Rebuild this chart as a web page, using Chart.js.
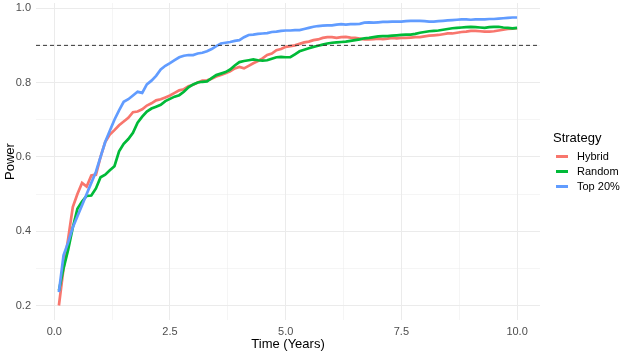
<!DOCTYPE html>
<html>
<head>
<meta charset="utf-8">
<script src="https://cdn.jsdelivr.net/npm/chart.js@4/dist/chart.umd.min.js"></script>
<style>
  html, body { margin: 0; padding: 0; background: #fff; }
  #wrap { position: relative; width: 624px; height: 356px; }
  canvas { position: absolute; left: 0; top: 0; }
  #legend { position: absolute; left: 553px; top: 130px; font-family: "Liberation Sans", Arial, sans-serif; color: #000; }
  #legend .title { font-size: 13px; margin-bottom: 4px; }
  #legend .item { font-size: 11px; height: 15px; line-height: 15px; display: flex; align-items: center; }
  #legend .key { width: 12px; height: 3px; margin: 0 9px 0 3px; }
</style>
</head>
<body>
<div id="wrap">
  <canvas id="c" width="624" height="356"></canvas>
  <div id="legend"></div>
</div>
<script>
const times = [];
for (let i = 1; i <= 100; i++) times.push(i / 10);

const seriesNames = ["Hybrid", "Random", "Top 20%"];
const seriesColors = ["#F8766D", "#00BA38", "#619CFF"];

const hybrid = [
  0.200,0.300,0.380,0.465,0.500,0.530,0.520,0.550,0.552,0.600,
  0.640,0.660,0.672,0.685,0.695,0.705,0.720,0.722,0.728,0.738,
  0.744,0.752,0.755,0.760,0.765,0.772,0.779,0.782,0.790,0.794,
  0.800,0.805,0.806,0.810,0.816,0.820,0.825,0.830,0.838,0.842,
  0.838,0.845,0.852,0.858,0.865,0.874,0.878,0.887,0.890,0.896,
  0.898,0.900,0.904,0.908,0.910,0.914,0.916,0.920,0.922,0.922,
  0.920,0.922,0.923,0.921,0.920,0.918,0.916,0.916,0.917,0.918,
  0.917,0.918,0.920,0.919,0.920,0.920,0.921,0.922,0.922,0.924,
  0.926,0.927,0.928,0.930,0.932,0.932,0.934,0.936,0.937,0.939,
  0.939,0.938,0.937,0.937,0.938,0.940,0.942,0.944,0.945,0.946
];
const random = [
  0.240,0.300,0.350,0.410,0.460,0.480,0.495,0.496,0.515,0.545,
  0.552,0.564,0.575,0.615,0.635,0.648,0.665,0.692,0.708,0.722,
  0.730,0.735,0.740,0.750,0.756,0.762,0.766,0.775,0.787,0.795,
  0.800,0.802,0.803,0.812,0.820,0.824,0.828,0.835,0.846,0.855,
  0.858,0.860,0.862,0.860,0.859,0.860,0.864,0.868,0.869,0.868,
  0.868,0.876,0.884,0.888,0.892,0.896,0.899,0.902,0.905,0.907,
  0.908,0.909,0.910,0.912,0.914,0.916,0.919,0.920,0.922,0.924,
  0.925,0.925,0.926,0.927,0.928,0.929,0.929,0.931,0.934,0.936,
  0.938,0.939,0.940,0.942,0.944,0.946,0.947,0.948,0.949,0.950,
  0.949,0.948,0.947,0.949,0.950,0.950,0.948,0.947,0.946,0.947
];
const top20 = [
  0.236,0.335,0.370,0.410,0.440,0.470,0.500,0.530,0.560,0.600,
  0.640,0.670,0.700,0.725,0.748,0.755,0.765,0.775,0.772,0.795,
  0.805,0.818,0.835,0.845,0.852,0.860,0.868,0.872,0.874,0.874,
  0.878,0.880,0.884,0.890,0.898,0.905,0.907,0.909,0.912,0.914,
  0.922,0.928,0.929,0.931,0.932,0.933,0.936,0.937,0.939,0.940,
  0.940,0.941,0.941,0.944,0.947,0.950,0.952,0.953,0.954,0.954,
  0.956,0.957,0.956,0.957,0.957,0.958,0.961,0.962,0.961,0.962,
  0.963,0.963,0.964,0.964,0.964,0.965,0.966,0.966,0.966,0.965,
  0.964,0.964,0.965,0.966,0.967,0.968,0.969,0.970,0.970,0.969,
  0.970,0.970,0.970,0.971,0.971,0.972,0.973,0.974,0.975,0.975
];
const threshold = 0.9;

const xMajorTicks = [0, 2.5, 5, 7.5, 10];
const xMinorTicks = [1.25, 3.75, 6.25, 8.75];
const yMajorTicks = [0.2, 0.4, 0.6, 0.8, 1.0];
const yMinorTicks = [0.3, 0.5, 0.7, 0.9];

const xMin = -0.395, xMax = 10.495;
const yMin = 0.161, yMax = 1.014;

const allSeries = [hybrid, random, top20];
const toPts = arr => arr.map((v, i) => ({ x: times[i], y: v }));

const datasets = allSeries.map((s, i) => ({
  label: seriesNames[i],
  data: toPts(s),
  borderColor: seriesColors[i],
  backgroundColor: seriesColors[i],
  borderWidth: 2.7,
  pointRadius: 0,
  tension: 0,
  order: 3 - i
}));
datasets.push({
  label: "threshold",
  data: [{ x: xMin, y: threshold }, { x: xMax, y: threshold }],
  borderColor: "#333333",
  borderWidth: 1,
  borderDash: [4, 3],
  pointRadius: 0,
  order: 0
});

const isMajor = (v, majors) => majors.some(m => Math.abs(m - v) < 1e-6);
const noPad = s => { s.paddingTop = 0; s.paddingBottom = 0; };

new Chart(document.getElementById("c"), {
  type: "line",
  data: { datasets },
  options: {
    responsive: false,
    animation: false,
    layout: { padding: { top: 3, right: 84, left: 3, bottom: 4 } },
    plugins: { legend: { display: false }, tooltip: { enabled: false } },
    scales: {
      x: {
        type: "linear",
        min: xMin, max: xMax,
        afterBuildTicks: s => { s.ticks = [...xMajorTicks, ...xMinorTicks].sort((a,b)=>a-b).map(v => ({ value: v })); },
        afterFit: s => { s.height = 32; },
        border: { display: false },
        grid: {
          color: "#ebebeb",
          lineWidth: ctx => (ctx.tick && isMajor(ctx.tick.value, xMajorTicks)) ? 1 : 0.5,
          drawTicks: false
        },
        ticks: {
          autoSkip: false, maxRotation: 0, padding: 5,
          color: "#4d4d4d",
          font: { family: "Liberation Sans", size: 11 },
          callback: v => isMajor(v, xMajorTicks) ? v.toFixed(1) : ""
        },
        title: {
          display: true, text: "Time (Years)", color: "#000",
          font: { family: "Liberation Sans", size: 13 },
          padding: { top: 0, bottom: 0 }
        }
      },
      y: {
        type: "linear",
        min: yMin, max: yMax,
        afterBuildTicks: s => { s.ticks = [...yMajorTicks, ...yMinorTicks].sort((a,b)=>a-b).map(v => ({ value: v })); },
        afterFit: s => { s.width = 33; noPad(s); },
        border: { display: false },
        grid: {
          color: "#ebebeb",
          lineWidth: ctx => (ctx.tick && isMajor(ctx.tick.value, yMajorTicks)) ? 1 : 0.5,
          drawTicks: false
        },
        ticks: {
          autoSkip: false, padding: 5,
          color: "#4d4d4d",
          font: { family: "Liberation Sans", size: 11 },
          callback: v => isMajor(v, yMajorTicks) ? v.toFixed(1) : ""
        },
        title: {
          display: true, text: "Power", color: "#000",
          font: { family: "Liberation Sans", size: 13 },
          padding: { top: 0, bottom: 0 }
        }
      }
    }
  }
});

const leg = document.getElementById("legend");
const t = document.createElement("div");
t.className = "title"; t.textContent = "Strategy";
leg.appendChild(t);
seriesNames.forEach((n, i) => {
  const it = document.createElement("div"); it.className = "item";
  const k = document.createElement("span"); k.className = "key"; k.style.background = seriesColors[i];
  const lb = document.createElement("span"); lb.textContent = n;
  it.appendChild(k); it.appendChild(lb); leg.appendChild(it);
});
</script>
</body>
</html>
